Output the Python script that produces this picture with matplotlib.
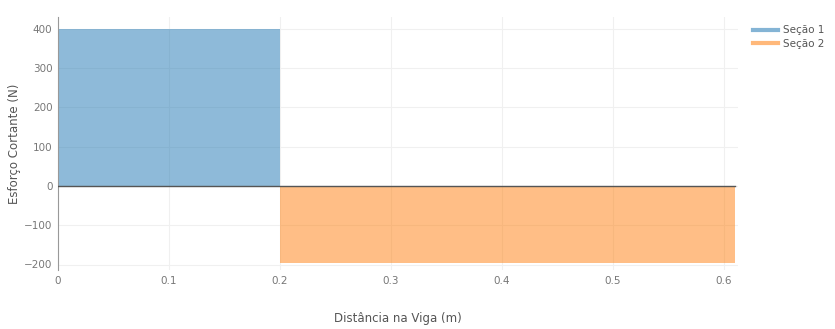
import numpy as np
import matplotlib.pyplot as plt

# Shear force sections along the beam
sec1_x = [0.0, 0.2]
sec1_v = [400, 400]
sec2_x = [0.2, 0.61]
sec2_v = [-195, -195]
labels = ["Seção 1", "Seção 2"]

blue = "#1f77b4"
orange = "#ff7f0e"

fig = plt.figure(figsize=(8.35, 3.29), dpi=100)
ax = fig.add_axes([58/835, 1-270/329, 680/835, 253/329])

ax.fill_between(sec1_x, sec1_v, 0, color=blue, alpha=0.5, lw=0)
ax.fill_between(sec2_x, sec2_v, 0, color=orange, alpha=0.5, lw=0)
ax.plot([], [], color=blue, alpha=0.55, lw=3, label=labels[0])
ax.plot([], [], color=orange, alpha=0.55, lw=3, label=labels[1])

ax.set_xlim(0, 0.6126)
ax.set_ylim(-214, 430)
ax.set_xticks(np.arange(0, 0.61, 0.1))
ax.set_xticklabels(["0", "0.1", "0.2", "0.3", "0.4", "0.5", "0.6"])
ax.set_yticks([-200, -100, 0, 100, 200, 300, 400])

ax.grid(color="#f0f0f0", lw=0.8)
ax.set_axisbelow(True)
ax.plot([0, 0.61], [0, 0], color="#555555", lw=1, zorder=3)

for s in ["top", "right", "bottom"]:
    ax.spines[s].set_visible(False)
ax.spines["left"].set_color("#999999")
ax.tick_params(length=0, labelsize=7.5, colors="#777777", pad=4)

ax.set_xlabel("Distância na Viga (m)", fontsize=8.5, color="#555555", labelpad=19)
ax.set_ylabel("Esforço Cortante (N)", fontsize=8.5, color="#555555", labelpad=2)

ax.legend(loc="upper left", bbox_to_anchor=(1.01, 1.0), frameon=False,
          fontsize=7.5, labelcolor="#555555", handlelength=2.4, handletextpad=0.45,
          borderaxespad=0.4, labelspacing=0.35)

fig.savefig("out.png", dpi=100)
